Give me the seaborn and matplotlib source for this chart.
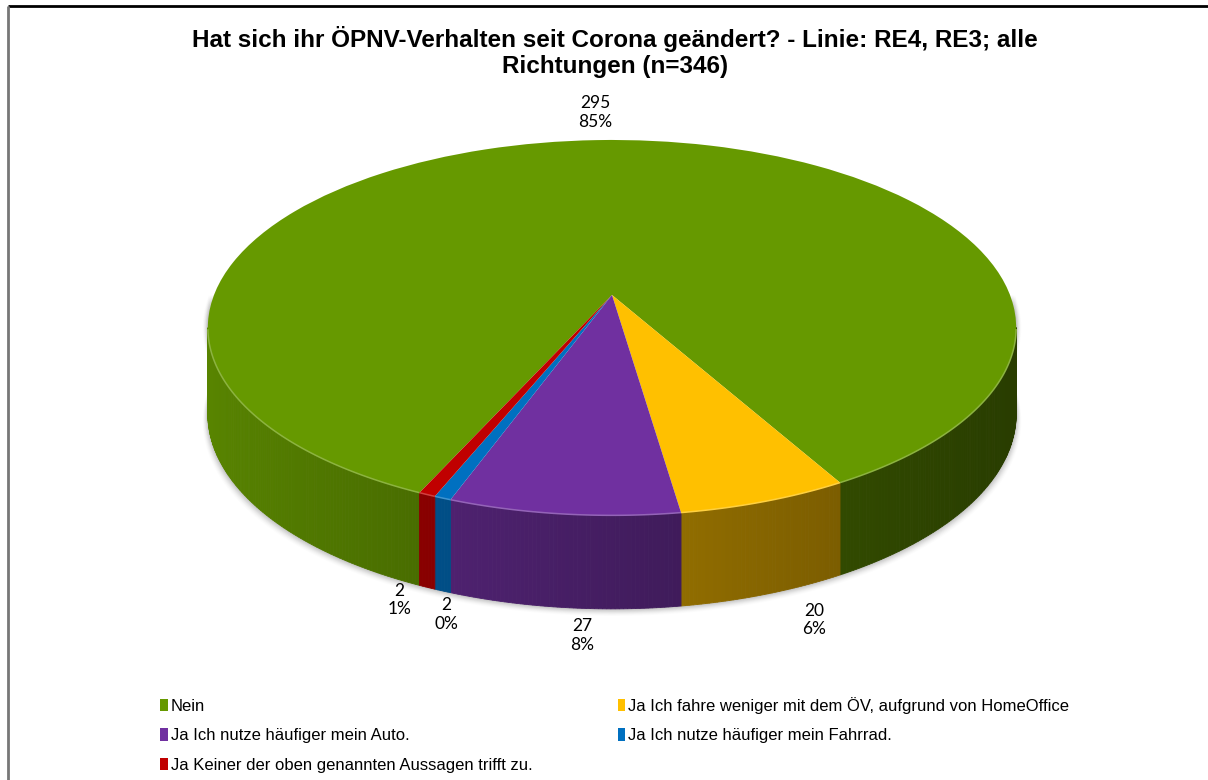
import numpy as np
import matplotlib
matplotlib.use("Agg")
import matplotlib.pyplot as plt
import seaborn as sns
from matplotlib.patches import Patch
from matplotlib.transforms import Transform

sns.set_theme(style="white")
plt.rcParams['font.family'] = ['Liberation Sans', 'DejaVu Sans']
plt.rcParams['text.color'] = 'black'

# data
categories = ['Nein',
              'Ja Ich fahre weniger mit dem ÖV, aufgrund von HomeOffice',
              'Ja Ich nutze häufiger mein Auto.',
              'Ja Ich nutze häufiger mein Fahrrad.',
              'Ja Keiner der oben genannten Aussagen trifft zu.']
counts = [295, 20, 27, 2, 2]
pct_labels = ['85%', '6%', '8%', '0%', '1%']
colors = ['#669900', '#ffc000', '#7030a0', '#0070c0', '#c00000']
title = ('Hat sich ihr ÖPNV-Verhalten seit Corona geändert? - Linie: RE4, RE3; alle\n'
         'Richtungen (n=346)')

W, H = 1208, 780
fig = plt.figure(figsize=(W / 100, H / 100), dpi=100)
ax = fig.add_axes([0, 0, 1, 1])

# 3d pie geometry in pixels (y up), k = perspective strength
cx, cy = 612, H - 295
a, b, k = 398, 182, 0.174
depth0 = 85


def project(u, v):
    s = 1.0 / (1.0 + k * v)
    return cx + a * u * s, cy + b * v * s, s


class Persp(Transform):
    input_dims = output_dims = 2
    is_separable = False
    has_inverse = False

    def transform_non_affine(self, values):
        values = np.asarray(values, dtype=float)
        x, y, _ = project(values[:, 0], values[:, 1])
        return np.column_stack([x, y])


wedges, _ = ax.pie(counts, colors=colors, startangle=246, counterclock=False,
                   radius=1, center=(0, 0), frame=True,
                   wedgeprops=dict(linewidth=0))


def shade(x):
    t = np.clip((x - (cx - a)) / (2 * a), 0, 1)
    return 0.86 - 0.46 * t ** 0.85


# soft shadow under the pie
tt = np.linspace(np.pi, 2 * np.pi, 240)
rx, ry, rs = project(np.cos(tt), np.sin(tt))
for j, al in zip(range(8, 0, -1), np.linspace(0.012, 0.05, 8)):
    xs = cx + (rx - cx) * (1 + j * 0.0016)
    ys = ry - depth0 * np.sqrt(rs) - j * 0.9
    ax.fill(np.r_[xs, xs[::-1]], np.r_[ys, ry[::-1]], color='black',
            alpha=al, lw=0, zorder=0)

# side walls, built from the wedge angles (visible below the silhouette v = -k)
for w, c in zip(wedges, colors):
    rgb = np.array(matplotlib.colors.to_rgb(c))
    n = max(2, int(np.ceil((w.theta2 - w.theta1) / 0.5)))
    th = np.radians(np.linspace(w.theta1, w.theta2, n + 1))
    for t0, t1 in zip(th[:-1], th[1:]):
        if np.sin((t0 + t1) / 2) >= -k:
            continue
        xs, ys, ss = project(np.cos([t0, t1]), np.sin([t0, t1]))
        dd = depth0 * np.sqrt(ss)
        px = [xs[0], xs[1], xs[1], xs[0]]
        py = [ys[0], ys[1], ys[1] - dd[1], ys[0] - dd[0]]
        col = rgb * shade(xs.mean())
        ax.fill(px, py, color=col, lw=0.6, ec=col, zorder=1)
    # light rim along the front edge of the top face (one line per run)
    front = np.sin(th) < -k
    runs = np.split(np.arange(len(th)), np.where(np.diff(front))[0] + 1)
    for r in runs:
        if front[r[0]] and len(r) > 1:
            xs, ys, _ = project(np.cos(th[r]), np.sin(th[r]))
            ax.plot(xs, ys, color=rgb + (1 - rgb) * 0.25, lw=1.1, zorder=3,
                    solid_capstyle='butt')

persp = Persp()
for w in wedges:
    w.set_transform(persp + ax.transData)
    w.set_zorder(2)

# data labels
label_nudge = [(1, 2), (12, 26), (31, 27), (46, 27), (18, 37)]
for w, n, p, (dx, dy) in zip(wedges, counts, pct_labels, label_nudge):
    mid = np.radians((w.theta1 + w.theta2) / 2)
    lx, ly, ls = project(1.2 * np.cos(mid), 1.2 * np.sin(mid))
    if np.sin(mid) < 0:
        ly -= 93
    ax.text(lx + dx, ly + dy, f'{n}\n{p}', ha='center', va='center',
            fontsize=12.5, family=['Lato', 'DejaVu Sans'], color='black',
            linespacing=1.2, zorder=5)

ax.set_aspect('auto')
ax.set_xlim(0, W)
ax.set_ylim(0, H)
ax.axis('off')

fig.text(615 / W, 1 - 52 / H, title, ha='center', va='center', fontsize=17.5,
         fontweight='bold', linespacing=1.2, color='black')

# legend (column-wise order to read row-wise)
order = [0, 2, 4, 1, 3]
handles = [Patch(facecolor=colors[i], edgecolor='none') for i in order]
labels = [categories[i] for i in order]
fig.legend(handles, labels, ncol=2, loc='upper left',
           bbox_to_anchor=(153.5 / W, 1 - 690 / H), frameon=False,
           fontsize=12, handlelength=0.45, handleheight=0.75, handletextpad=0.2,
           columnspacing=5.1, labelspacing=0.88, borderaxespad=0)

# chart border
ax.plot([8, W], [H - 6, H - 6], color='black', lw=2, solid_capstyle='butt')
ax.plot([8, 8], [0, H - 6], color='#777777', lw=2, solid_capstyle='butt')

fig.savefig('out.png', dpi=100, facecolor='white')
